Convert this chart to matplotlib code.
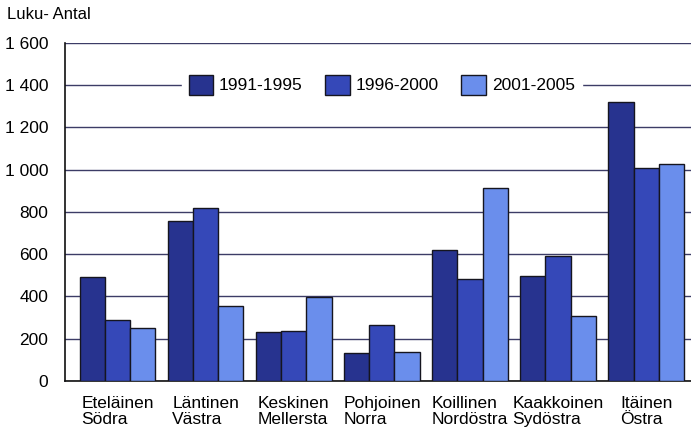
import numpy as np
import matplotlib.pyplot as plt

plt.rcParams['font.family'] = ['Liberation Sans', 'DejaVu Sans']

regions = ['Eteläinen\nSödra', 'Läntinen\nVästra', 'Keskinen\nMellersta', 'Pohjoinen\nNorra',
           'Koillinen\nNordöstra', 'Kaakkoinen\nSydöstra', 'Itäinen\nÖstra']
periods = ['1991-1995', '1996-2000', '2001-2005']
v_1991 = [492, 757, 232, 133, 620, 497, 1320]
v_1996 = [289, 819, 234, 265, 483, 592, 1008]
v_2001 = [251, 355, 398, 137, 913, 308, 1027]
yticks = [0, 200, 400, 600, 800, 1000, 1200, 1400, 1600]
ytick_labels = ['0', '200', '400', '600', '800', '1 000', '1 200', '1 400', '1 600']

colors = ['#27338f', '#3548b8', '#6a8eec']

fig = plt.figure(figsize=(6.91, 4.28), dpi=100)
ax = fig.add_axes([0.094, 0.110, 0.906, 0.790])

x = np.arange(len(regions))
w = 0.285
for k, vals in enumerate([v_1991, v_1996, v_2001]):
    ax.bar(x + (k - 1) * w, vals, w, color=colors[k], edgecolor='#15151f',
           linewidth=1.0, label=periods[k], zorder=3)

ax.set_ylim(0, 1600)
ax.set_xlim(-0.6, 6.51)
ax.set_yticks(yticks)
ax.set_yticklabels(ytick_labels, fontsize=12.5)
ax.yaxis.grid(True, color='#3c3c66', linewidth=1.0, zorder=0)
ax.tick_params(axis='y', length=0, pad=12)
ax.tick_params(axis='x', length=0, pad=11)

# category labels: block centred on group, lines left aligned
ax.set_xticks(x)
ax.set_xticklabels(regions, fontsize=12.5, ha='center', multialignment='left',
                   linespacing=1.05)

for s in ['top', 'right']:
    ax.spines[s].set_visible(False)
ax.spines['left'].set_color('#111111')
ax.spines['bottom'].set_color('#111111')
ax.spines['left'].set_linewidth(1.2)
ax.spines['bottom'].set_linewidth(1.2)

leg = ax.legend(loc='center', bbox_to_anchor=(0.506, 0.876), ncol=3, fontsize=12.5,
                frameon=True, facecolor='white', edgecolor='white', framealpha=1,
                handlelength=1.4, handleheight=1.4, handletextpad=0.35,
                columnspacing=1.3, borderpad=0.4, fancybox=False)
leg.set_zorder(5)

fig.text(0.010, 0.965, 'Luku- Antal', fontsize=12, ha='left', va='center')

fig.savefig('out.png', dpi=100)
